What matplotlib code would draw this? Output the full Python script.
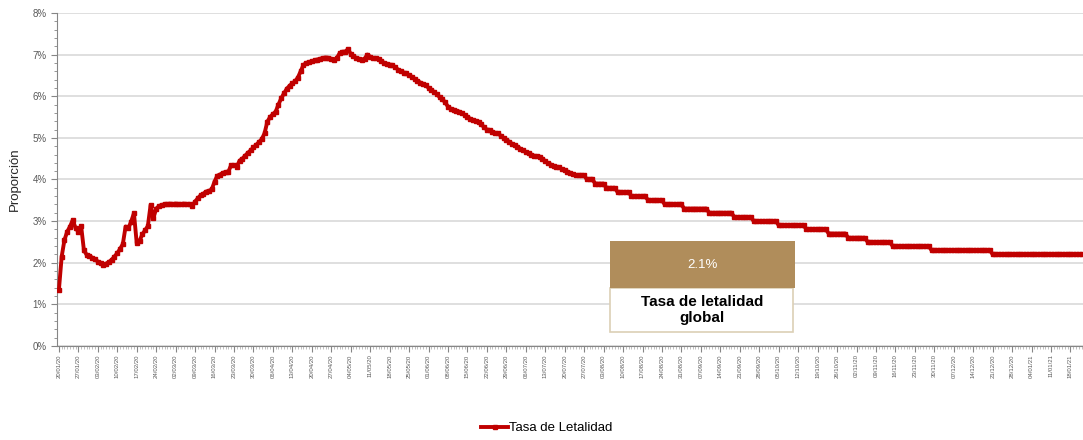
import datetime as dt
import numpy as np
import matplotlib
matplotlib.use("Agg")
import matplotlib.pyplot as plt
from matplotlib.patches import Rectangle
from matplotlib.ticker import FixedLocator, MultipleLocator, FuncFormatter

plt.rcParams['font.family'] = ['Liberation Sans', 'DejaVu Sans']

start_date = dt.date(2020, 1, 20)

# Tasa de letalidad diaria (%) hasta el 2020-07-25 aprox.
rate_early = [
    1.35, 2.15, 2.55, 2.75, 2.87, 3.03, 2.83, 2.75, 2.88, 2.30,
    2.19, 2.17, 2.12, 2.08, 2.03, 2.00, 1.95, 1.98, 2.02, 2.07,
    2.15, 2.23, 2.33, 2.45, 2.87, 2.83, 2.99, 3.19, 2.47, 2.52,
    2.68, 2.78, 2.88, 3.39, 3.07, 3.30, 3.36, 3.39, 3.40, 3.41,
    3.42, 3.41, 3.42, 3.41, 3.41, 3.42, 3.41, 3.41, 3.37, 3.47,
    3.55, 3.62, 3.66, 3.71, 3.73, 3.76, 3.95, 4.09, 4.12, 4.16,
    4.18, 4.19, 4.35, 4.34, 4.31, 4.45, 4.50, 4.57, 4.64, 4.70,
    4.77, 4.83, 4.90, 4.97, 5.11, 5.39, 5.50, 5.57, 5.63, 5.80,
    5.95, 6.07, 6.18, 6.25, 6.31, 6.36, 6.45, 6.60, 6.75, 6.80,
    6.82, 6.84, 6.86, 6.88, 6.90, 6.92, 6.93, 6.92, 6.90, 6.88,
    6.92, 7.03, 7.07, 7.07, 7.13, 7.02, 6.96, 6.92, 6.90, 6.88,
    6.90, 7.00, 6.95, 6.92, 6.91, 6.89, 6.85, 6.80, 6.78, 6.76,
    6.74, 6.70, 6.64, 6.60, 6.57, 6.55, 6.50, 6.47, 6.42, 6.37,
    6.33, 6.30, 6.27, 6.20, 6.16, 6.10, 6.05, 5.98, 5.93, 5.85,
    5.75, 5.70, 5.68, 5.65, 5.63, 5.60, 5.55, 5.50, 5.46, 5.43,
    5.40, 5.39, 5.33, 5.25, 5.20, 5.19, 5.15, 5.12, 5.11, 5.05,
    5.00, 4.95, 4.91, 4.86, 4.83, 4.79, 4.74, 4.70, 4.66, 4.63,
    4.60, 4.57, 4.56, 4.55, 4.50, 4.44, 4.39, 4.36, 4.33, 4.30,
    4.29, 4.25, 4.22, 4.19, 4.16, 4.13, 4.10,
]
# despues la serie baja en escalones de 0.1%: (valor, numero de dias)
step_values = [4.1, 4.0, 3.9, 3.8, 3.7, 3.6, 3.5, 3.4, 3.3, 3.2,
               3.1, 3.0, 2.9, 2.8, 2.7, 2.6, 2.5, 2.4, 2.3, 2.2]
step_days = [3, 3, 4, 4, 5, 6, 6, 7, 9, 9,
             7, 9, 10, 8, 7, 7, 9, 14, 22, 33]

global_rate = 2.1
box_label = "Tasa de letalidad\nglobal"
series_name = "Tasa de Letalidad"

rates = list(rate_early)
for v, n in zip(step_values, step_days):
    rates += [v] * n
rates = np.array(rates) / 100
days = np.arange(len(rates))

fig = plt.figure(figsize=(10.83, 4.40), dpi=100)
ax = fig.add_axes([0.0526, 0.2136, 0.9474, 0.7569])

ax.plot(days, rates, color="#C00000", lw=2.8, marker="s", ms=2.8,
        mec="#C00000", mfc="#C00000", label=series_name, zorder=3)

ax.set_xlim(-0.7, 368.5)
ax.set_ylim(0, 0.08)

# eje y
ax.yaxis.set_major_locator(MultipleLocator(0.01))
ax.yaxis.set_minor_locator(MultipleLocator(0.002))
ax.yaxis.set_major_formatter(FuncFormatter(lambda v, p: "%d%%" % round(v * 100)))
ax.grid(axis="y", color="#D9D9D9", lw=1.2)
ax.set_axisbelow(True)
ax.set_ylabel("Proporción", fontsize=9.5, color="#262626", labelpad=8)

# eje x: etiqueta cada 7 dias, marca menor cada dia
major = list(range(0, len(rates), 7))
ax.xaxis.set_major_locator(FixedLocator(major))
ax.xaxis.set_minor_locator(MultipleLocator(1))
ax.set_xticklabels([(start_date + dt.timedelta(days=d)).strftime("%d/%m/%y") for d in major],
                   rotation=90, fontsize=4.3, color="#595959")

for s in ("top", "right"):
    ax.spines[s].set_visible(False)
for s in ("left", "bottom"):
    ax.spines[s].set_color("#868686")
ax.tick_params(axis="y", which="major", length=4, color="#868686", labelsize=7, labelcolor="#595959")
ax.tick_params(axis="y", which="minor", length=2, color="#868686")
ax.tick_params(axis="x", which="major", length=4, color="#868686", pad=2)
ax.tick_params(axis="x", which="minor", length=2, color="#A6A6A6", width=0.5)

# recuadro con la tasa global
fig.add_artist(Rectangle((610 / 1083, 1 - 332 / 440), 183 / 1083, 44 / 440,
                         transform=fig.transFigure, fc="white", ec="#DCCFB5", lw=1.2, zorder=5))
fig.add_artist(Rectangle((610 / 1083, 1 - 288 / 440), 185 / 1083, 47 / 440,
                         transform=fig.transFigure, fc="#B08D5B", ec="none", zorder=6))
fig.text(702 / 1083, 1 - 265 / 440, "%.1f%%" % global_rate, color="white",
         ha="center", va="center", fontsize=9.5, zorder=7)
fig.text(702 / 1083, 1 - 310 / 440, box_label, color="black", ha="center", va="center",
         fontsize=11, fontweight="bold", linespacing=1.15, zorder=7)

fig.legend(loc="lower center", bbox_to_anchor=(0.505, -0.014), frameon=False,
           fontsize=9.5, handlelength=2.0, handletextpad=0.1)

fig.savefig("out.png", dpi=100)
